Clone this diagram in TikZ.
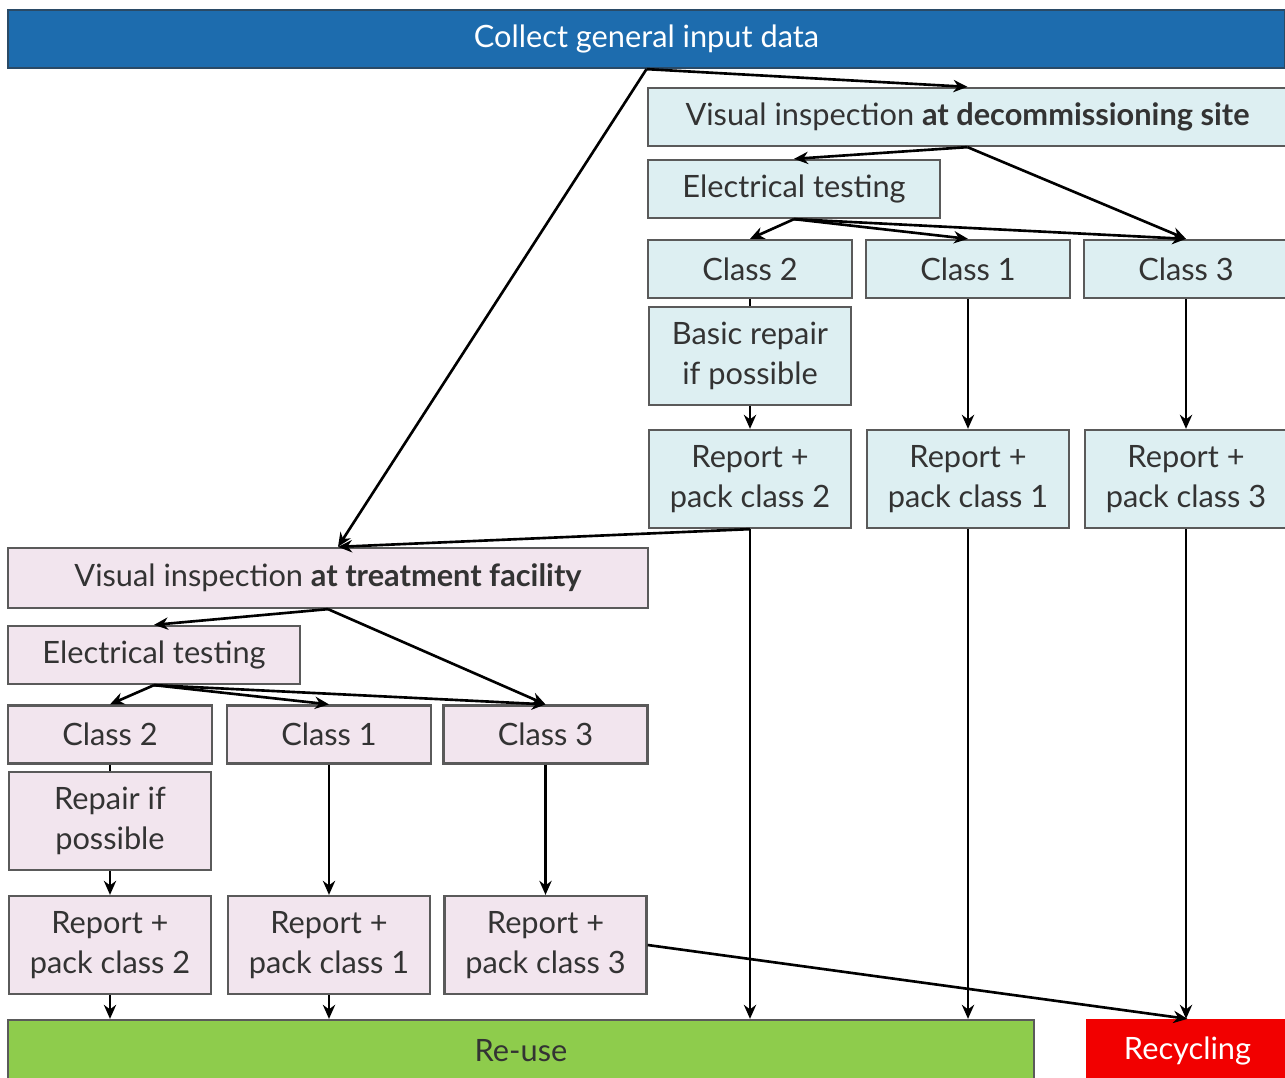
\documentclass[tikz,border=0pt]{standalone}
\usepackage{fontspec}
\setmainfont{Lato}
\usetikzlibrary{arrows.meta, positioning, calc}
\definecolor{topblue}{HTML}{1D6CAE}
\definecolor{topedge}{HTML}{2A4A66}
\definecolor{decfill}{HTML}{DDEFF2}
\definecolor{facfill}{HTML}{F2E5EE}
\definecolor{boxedge}{HTML}{5A5A5A}
\definecolor{boxtext}{HTML}{333333}
\definecolor{reusegreen}{HTML}{8ECC4C}
\definecolor{recyclered}{HTML}{F20000}

\begin{document}
\begin{tikzpicture}[
  box/.style={rectangle, draw=boxedge, line width=1.3pt, text=boxtext, align=center, font=\fontsize{17.5}{22.5}\selectfont, minimum height=1.16cm, inner sep=0pt},
  decbox/.style={box, fill=decfill},
  facbox/.style={box, fill=facfill},
  classbox/.style={minimum width=4.08cm},
  tallbox/.style={minimum width=4.04cm, minimum height=1.96cm},
  testbox/.style={minimum width=5.84cm},
  arrow/.style={-{Stealth[length=8pt, width=7pt]}, line width=1.5pt, color=black}
]
  \useasboundingbox (0,0) rectangle (25.7,-21.54);

  \node[box, fill=topblue, draw=topedge, text=white, minimum width=25.54cm] (input) at (12.93,-0.78) {Collect general input data};

  \node[decbox, minimum width=12.78cm] (videc) at (19.35,-2.34) {Visual inspection \textbf{at decommissioning site}};
  \node[decbox, testbox] (etdec) at (15.88,-3.78) {Electrical testing};
  \node[decbox, classbox] (c2dec) at (15.0,-5.38) {Class 2};
  \node[decbox, classbox] (c1dec) at (19.36,-5.38) {Class 1};
  \node[decbox, classbox] (c3dec) at (23.72,-5.38) {Class 3};
  \node[decbox, tallbox] (repdec) at (15.0,-7.12) {Basic repair\\if possible};
  \node[decbox, tallbox] (r2dec) at (15.0,-9.58) {Report +\\pack class 2};
  \node[decbox, tallbox] (r1dec) at (19.36,-9.58) {Report +\\pack class 1};
  \node[decbox, tallbox] (r3dec) at (23.72,-9.58) {Report +\\pack class 3};

  \node[facbox, minimum width=12.8cm, minimum height=1.2cm] (vifac) at (6.56,-11.56) {Visual inspection \textbf{at treatment facility}};
  \node[facbox, testbox] (etfac) at (3.08,-13.1) {Electrical testing};
  \node[facbox, classbox] (c2fac) at (2.2,-14.69) {Class 2};
  \node[facbox, classbox] (c1fac) at (6.58,-14.69) {Class 1};
  \node[facbox, classbox] (c3fac) at (10.91,-14.69) {Class 3};
  \node[facbox, tallbox] (repfac) at (2.2,-16.42) {Repair if\\possible};
  \node[facbox, tallbox] (r2fac) at (2.2,-18.9) {Report +\\pack class 2};
  \node[facbox, tallbox] (r1fac) at (6.58,-18.9) {Report +\\pack class 1};
  \node[facbox, tallbox] (r3fac) at (10.91,-18.9) {Report +\\pack class 3};

  \node[box, fill=reusegreen, draw=boxedge, minimum width=20.52cm, minimum height=1.24cm] (reuse) at (10.42,-21.02) {Re-use};
  \node[box, fill=recyclered, draw=recyclered, text=white, minimum width=4.02cm, minimum height=1.24cm] (recycle) at (23.75,-21.02) {Recycling};

  \coordinate (fachit) at ([xshift=0.2cm]vifac.north);

  \draw[arrow] (input.south) -- (videc.north);
  \draw[arrow] (input.south) -- (fachit);
  \draw[arrow] (videc.south) -- (etdec.north);
  \draw[arrow] (videc.south) -- (c3dec.north);
  \draw[arrow] (etdec.south) -- (c2dec.north);
  \draw[arrow] (etdec.south) -- (c1dec.north);
  \draw[arrow] (etdec.south) -- (c3dec.north);
  \draw[line width=1.5pt] (c2dec.south) -- (repdec.north);
  \draw[arrow] (repdec.south) -- (r2dec.north);
  \draw[arrow] (c1dec.south) -- (r1dec.north);
  \draw[arrow] (c3dec.south) -- (r3dec.north);
  \draw[arrow] (r2dec.south) -- (fachit);
  \draw[arrow] (r2dec.south) -- (r2dec.south |- reuse.north);
  \draw[arrow] (r1dec.south) -- (r1dec.south |- reuse.north);
  \draw[arrow] (r3dec.south) -- (r3dec.south |- recycle.north);

  \draw[arrow] (vifac.south) -- (etfac.north);
  \draw[arrow] (vifac.south) -- (c3fac.north);
  \draw[arrow] (etfac.south) -- (c2fac.north);
  \draw[arrow] (etfac.south) -- (c1fac.north);
  \draw[arrow] (etfac.south) -- (c3fac.north);
  \draw[line width=1.5pt] (c2fac.south) -- (repfac.north);
  \draw[arrow] (repfac.south) -- (r2fac.north);
  \draw[arrow] (c1fac.south) -- (r1fac.north);
  \draw[arrow] (c3fac.south) -- (r3fac.north);
  \draw[arrow] (r2fac.south) -- (r2fac.south |- reuse.north);
  \draw[arrow] (r1fac.south) -- (r1fac.south |- reuse.north);
  \draw[arrow] (r3fac.east) -- (recycle.north);
\end{tikzpicture}
\end{document}
